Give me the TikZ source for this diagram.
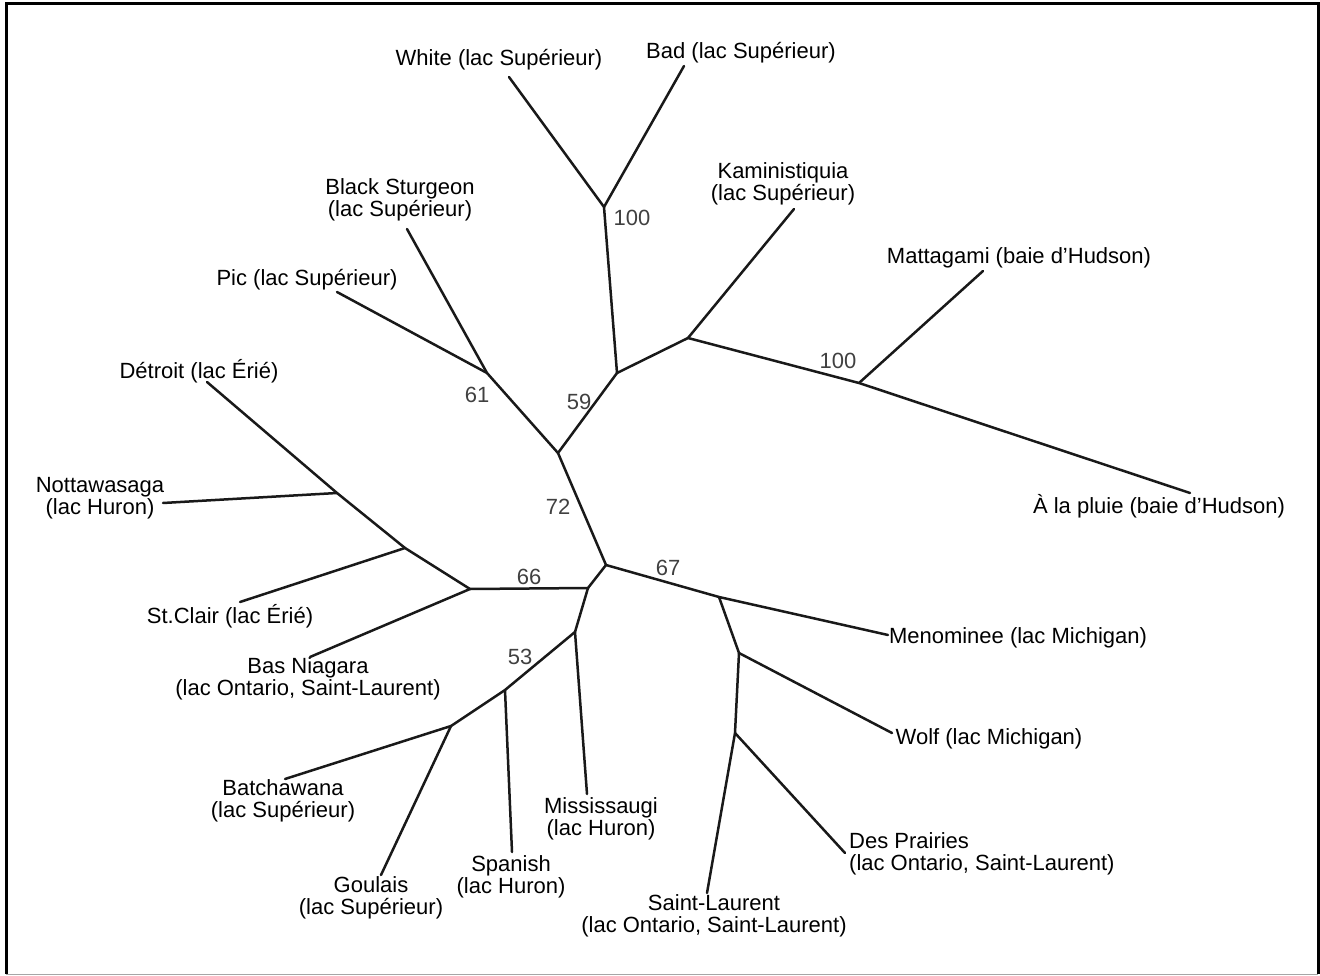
\documentclass[tikz,border=0pt]{standalone}
\usepackage{fontspec}
\setmainfont{Liberation Sans}
\usetikzlibrary{positioning}

\begin{document}
\begin{tikzpicture}[x=1pt, y=-1pt,
    leaf/.style = {font=\fontsize{22}{22.5}\selectfont, align=center, inner sep=0pt},
    boot/.style = {font=\fontsize{22}{22.5}\selectfont, text=black!75, inner sep=0pt},
    branch/.style = {line width=2.5pt, black!90, line cap=round, line join=round}]
            % Frame
            \useasboundingbox (0,0) rectangle (1320,976);
            \draw[line width=3pt] (6,974) -- (6,4) -- (1318,4) -- (1318,974);
            \draw[line width=1.5pt, black!35] (6,974.5) -- (1318,974.5);

            % Inner points
            \coordinate (c) at (606,565);
            \coordinate (a) at (558,453);
            \coordinate (n59) at (617,373);
            \coordinate (n100) at (604,207);
            \coordinate (nK) at (688,338);
            \coordinate (nM) at (859,383);
            \coordinate (n61) at (487,373);
            \coordinate (b) at (588,588);
            \coordinate (n66) at (470,589);
            \coordinate (nSC) at (405,548);
            \coordinate (nN) at (337,493);
            \coordinate (nMi) at (575,632);
            \coordinate (n53) at (505,690);
            \coordinate (nB) at (451,726);
            \coordinate (n67) at (719,597);
            \coordinate (nW) at (739,653);
            \coordinate (nD) at (735,733);

            % Leaf ends
            \coordinate (eWhite) at (509,77);
            \coordinate (eBad) at (684,66);
            \coordinate (eBS) at (407,229);
            \coordinate (ePic) at (337,292);
            \coordinate (eKam) at (794,209);
            \coordinate (eMat) at (983,271);
            \coordinate (ePluie) at (1190,493);
            \coordinate (eDet) at (207,382);
            \coordinate (eNot) at (163,503);
            \coordinate (eSC) at (240,602);
            \coordinate (eBN) at (310,657);
            \coordinate (eBat) at (285,779);
            \coordinate (eGou) at (381,875);
            \coordinate (eSpa) at (512,852);
            \coordinate (eMis) at (587,794);
            \coordinate (eSL) at (707,893);
            \coordinate (eDP) at (845,853);
            \coordinate (eWolf) at (892,733);
            \coordinate (eMen) at (888,635);

            % Nodes
            \node[leaf] (white) at (499,60) {White (lac Supérieur)};
            \node[leaf] (bad) at (741,53) {Bad (lac Supérieur)};
            \node[leaf] (bs) at (400,200) {Black Sturgeon\\ (lac Supérieur)};
            \node[leaf] (kam) at (783,184) {Kaministiquia\\(lac Supérieur)};
            \node[leaf] (pic) at (307,280) {Pic (lac Supérieur)};
            \node[leaf] (mat) at (1019,258) {Mattagami (baie d’Hudson)};
            \node[leaf] (det) at (199,371) {Détroit (lac Érié)};
            \node[leaf] (not) at (100,498) {Nottawasaga\\ (lac Huron)};
            \node[leaf] (pluie) at (1159,506) {À la pluie (baie d’Hudson)};
            \node[leaf] (sc) at (230,616) {St.Clair (lac Érié)};
            \node[leaf] (men) at (1018,638) {Menominee (lac Michigan)};
            \node[leaf] (bn) at (308,679) {Bas Niagara\\ (lac Ontario, Saint-Laurent)};
            \node[leaf] (wolf) at (989,739) {Wolf (lac Michigan)};
            \node[leaf] (bat) at (283,801) {Batchawana\\ (lac Supérieur)};
            \node[leaf] (mis) at (601,819) {Mississaugi\\ (lac Huron)};
            \node[leaf, align=left, anchor=west] (dp) at (849,854) {Des Prairies\\(lac Ontario, Saint-Laurent)};
            \node[leaf] (spa) at (511,877) {Spanish\\ (lac Huron)};
            \node[leaf] (gou) at (371,898) {Goulais\\(lac Supérieur)};
            \node[leaf] (sl) at (714,916) {Saint-Laurent\\ (lac Ontario, Saint-Laurent)};

            % Bootstrap values
            \node[boot] (b100a) at (632,218) {100};
            \node[boot] (b100b) at (838,361) {100};
            \node[boot] (b59) at (579,402) {59};
            \node[boot] (b61) at (477,395) {61};
            \node[boot] (b72) at (558,507) {72};
            \node[boot] (b66) at (529,577) {66};
            \node[boot] (b67) at (668,568) {67};
            \node[boot] (b53) at (520,657) {53};

            % Lines
            \draw[branch] (c) -- (a);
            \draw[branch] (a) -- (n61);
            \draw[branch] (n61) -- (eBS);
            \draw[branch] (n61) -- (ePic);
            \draw[branch] (a) -- (n59);
            \draw[branch] (n59) -- (n100);
            \draw[branch] (n100) -- (eWhite);
            \draw[branch] (n100) -- (eBad);
            \draw[branch] (n59) -- (nK);
            \draw[branch] (nK) -- (eKam);
            \draw[branch] (nK) -- (nM);
            \draw[branch] (nM) -- (eMat);
            \draw[branch] (nM) -- (ePluie);
            \draw[branch] (c) -- (b);
            \draw[branch] (b) -- (n66);
            \draw[branch] (n66) -- (nSC);
            \draw[branch] (nSC) -- (nN);
            \draw[branch] (nN) -- (eDet);
            \draw[branch] (nN) -- (eNot);
            \draw[branch] (nSC) -- (eSC);
            \draw[branch] (n66) -- (eBN);
            \draw[branch] (b) -- (nMi);
            \draw[branch] (nMi) -- (eMis);
            \draw[branch] (nMi) -- (n53);
            \draw[branch] (n53) -- (eSpa);
            \draw[branch] (n53) -- (nB);
            \draw[branch] (nB) -- (eBat);
            \draw[branch] (nB) -- (eGou);
            \draw[branch] (c) -- (n67);
            \draw[branch] (n67) -- (eMen);
            \draw[branch] (n67) -- (nW);
            \draw[branch] (nW) -- (eWolf);
            \draw[branch] (nW) -- (nD);
            \draw[branch] (nD) -- (eDP);
            \draw[branch] (nD) -- (eSL);
        \end{tikzpicture}
\end{document}
